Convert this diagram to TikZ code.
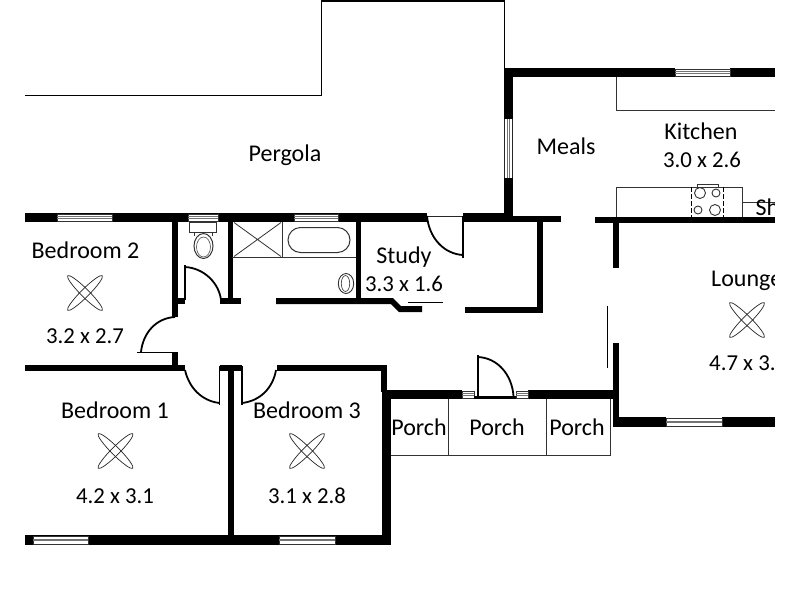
\documentclass[tikz,border=0pt]{standalone}
\usepackage{fontspec}
\setmainfont{Carlito}
\tikzset{
  wall/.style={fill=black,draw=none},
  thin line/.style={draw=black!85,line width=1.1pt},
  door/.style={draw=black,line width=1.8pt},
  fix/.style={draw=black!80,line width=1pt},
  lbl/.style={inner sep=0pt,anchor=base,text=black,font=\fontsize{24}{26}\selectfont},
  dim/.style={inner sep=0pt,anchor=base,text=black,font=\fontsize{22.8}{26}\selectfont},
  blade/.style={draw=black!85,line width=0.7pt,fill=none}
}
\newcommand{\wl}[4]{\fill[wall] (#1,#2) rectangle (#3,#4);}
\newcommand{\winh}[4]{\fill[white] (#1,#2) rectangle (#3,#4);
  \draw[black!80,line width=0.7pt] (#1,#2) rectangle (#3,#4);
  \draw[black!55,line width=0.7pt] (#1,{(#2+#4)/2-0.8}) -- (#3,{(#2+#4)/2-0.8}) (#1,{(#2+#4)/2+0.8}) -- (#3,{(#2+#4)/2+0.8});}
\newcommand{\fan}[2]{\begin{scope}[shift={(#1,#2)}]
  \draw[blade,rotate=45] (0,0) ellipse (24.5pt and 4pt);
  \draw[blade,rotate=-45] (0,0) ellipse (24.5pt and 4pt);
  \end{scope}}
\begin{document}
\begin{tikzpicture}[x=1pt,y=-1pt]
\useasboundingbox (0,0) rectangle (800,600);
\fill[white] (0,0) rectangle (800,600);
% pergola outline
\draw[black,line width=1.5pt] (25,95.5) -- (321.5,95.5) -- (321.5,1.2) -- (504.5,1.2) -- (504.5,70);
% top wall, west
\wl{25}{213}{427}{222}
\wl{463}{213}{504}{222}
\wl{504}{216}{561}{222}
\draw[thin line] (427,216.5) -- (463,216.5);
\winh{57}{214}{112}{221}
\winh{188}{214}{218}{221}
\winh{294}{214}{338}{221}
% meals wall
\wl{504}{68}{513}{119}
\wl{504}{178}{513}{222}
\wl{504}{68}{675}{77}
\wl{730}{68}{775}{77}
\winh{675}{69}{730}{76}
\fill[white] (504.5,119) rectangle (512.5,178);
\draw[black!85,line width=0.8pt] (504.5,119) -- (504.5,178) (512.5,119) -- (512.5,178);
\draw[black!55,line width=0.7pt] (507.7,119) -- (507.7,178) (509.3,119) -- (509.3,178);
% kitchen
\draw[fix] (616,77) -- (616,110) -- (775,110);
\draw[fix] (616,217) -- (616,187) -- (742,187) -- (742,217);
\draw[fix] (742,202) -- (775,202);
\draw[fix] (697,187) -- (697,184) -- (718,184) -- (718,187);
\draw[black,line width=0.8pt,dash pattern=on 5pt off 2pt] (691,187) -- (691,217) (723.5,187) -- (723.5,217);
\draw[black!80,line width=0.9pt] (700,193) circle (5.5pt) (716,193) circle (4pt) (698,210) circle (4pt) (715,210) circle (5.5pt);
\node[lbl,anchor=base west] (sh) at (755.5,215.5) {Sh};
\wl{595}{217}{775}{223}
% lounge
\wl{613}{223}{619}{268}
\draw[black,line width=1.5pt] (607.5,306) -- (607.5,368);
\wl{613}{343}{619}{427}
\wl{613}{417}{666}{427}
\wl{722}{417}{775}{427}
\winh{666}{418}{722}{426}
% bedroom 2 / hall
\wl{172}{222}{177.5}{317}
\wl{172}{352}{177.5}{365}
\wl{25}{365}{185}{371}
\draw[door] (137,352.5) -- (177,352.5);
\draw[door] (141,352) .. controls (143,333) and (156,318) .. (175,317);
% wc
\wl{177}{298}{185}{304}
\wl{228}{222}{232.5}{304}
\wl{220}{298}{241}{304}
\draw[door] (185,300) -- (185,265);
\draw[door] (185,267) .. controls (204,268) and (219,283) .. (221,300);
\draw[fix] (189,222) rectangle (216,232.5);
\draw[fix] (194,232.5) -- (194,236) (212,232.5) -- (212,236);
\draw[fix] (203.5,246) ellipse (9.5pt and 12.5pt);
\draw[black!70,line width=0.6pt] (203.5,247) ellipse (7pt and 10pt);
% bathroom
\draw[fix] (232,257) -- (356,257) (282,222) -- (282,257);
\draw[black!80,line width=0.8pt] (234,222.5) -- (281,256.5) (234,256.5) -- (281,222.5);
\draw[fix,rounded corners=12.5pt] (288,227.5) rectangle (350,252.5);
\draw[black!80,line width=0.9pt] (346,283.5) ellipse (7.7pt and 10pt);
\draw[black!70,line width=0.7pt] (345.5,283.5) ellipse (4.2pt and 8pt);
\wl{356}{222}{361}{304}
% study front
\fill[wall] (276,298) -- (393,298) -- (401,306) -- (422,306) -- (422,312) -- (399,312) -- (391,304) -- (276,304) -- cycle;
\draw[black,line width=1.2pt] (408,302.5) -- (443,302.5);
\wl{465}{307}{543}{313}
\wl{537}{222}{543}{313}
% study door
\draw[door] (463,216) -- (463,258);
\draw[door] (427,216) .. controls (429,238) and (444,254) .. (463,255);
% bedroom doors
\wl{220}{365}{242}{371}
\wl{228}{371}{233.5}{537}
\draw[door] (219.5,366) -- (219.5,405);
\draw[door] (185,370) .. controls (189,388) and (202,401) .. (219.5,403);
\draw[door] (242,366) -- (242,405);
\draw[door] (242,403) .. controls (260,401) and (273,388) .. (276,370);
\wl{277}{365}{387}{371}
% east wall of bedroom 3
\wl{381}{365}{387}{392}
\wl{382}{390}{391}{545}
% bottom wall
\wl{25}{535}{391}{545}
\winh{33}{536}{88}{544}
\winh{279}{536}{335}{544}
% porch wall
\wl{382}{390}{462}{399}
\wl{528}{390}{619}{399}
\winh{462}{391}{474}{398}
\winh{516}{391}{528}{398}
\wl{474}{396}{516}{399}
\draw[door] (478,355) -- (478,397);
\draw[door] (478,357) .. controls (498,358) and (512,375) .. (513.5,396);
% porch frame
\draw[fix] (391,455.5) -- (610,455.5) -- (610,399);
\draw[fix] (448.5,399) -- (448.5,455.5) (546,399) -- (546,455.5);
% fans
\fan{85}{293}
\fan{115.5}{451}
\fan{307}{451}
\fan{747}{320}
% labels
\node[lbl] (pergola) at (285,161) {Pergola};
\node[lbl] (meals) at (566,154) {Meals};
\node[lbl] (kitchen) at (701,139) {Kitchen};
\node[dim] (kitdim) at (702,167.5) {3.0 x 2.6};
\node[lbl] (bed2) at (85.5,258) {Bedroom 2};
\node[dim] (bed2dim) at (85,343) {3.2 x 2.7};
\node[lbl] (study) at (404,263) {Study};
\node[dim] (studydim) at (404,291) {3.3 x 1.6};
\node[lbl,anchor=base west] (lounge) at (711,286) {Lounge};
\node[dim,anchor=base west] (loungedim) at (709,370) {4.7 x 3.};
\node[lbl] (bed1) at (115,418) {Bedroom 1};
\node[dim] (bed1dim) at (115,503) {4.2 x 3.1};
\node[lbl] (bed3) at (307,418) {Bedroom 3};
\node[dim] (bed3dim) at (307,503) {3.1 x 2.8};
\node[lbl] (p1) at (419,435) {Porch};
\node[lbl] (p2) at (497,435) {Porch};
\node[lbl] (p3) at (577,435) {Porch};
% page mask on the right edge
\fill[white] (775,0) rectangle (800,600);
\end{tikzpicture}
\end{document}
